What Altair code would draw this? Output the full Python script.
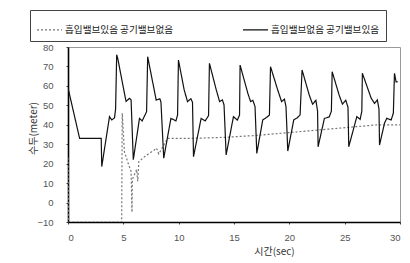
import altair as alt
import pandas as pd

S_DOT = "흡입밸브있음 공기밸브없음"
S_SOLID = "흡입밸브없음 공기밸브있음"

# time (sec) / head (meter) for the solid series
solid_x = [0, 1.05, 3.0, 3.05, 3.75, 3.95, 4.2, 4.3, 4.4, 4.5, 5.1, 5.25, 5.55, 5.7, 5.9,
           6.46, 6.7, 7.1, 7.2, 7.97, 8.3, 8.4, 8.65, 9.3, 9.75, 9.9, 9.98, 10.5, 10.8,
           11.1, 11.25, 11.34, 12.03, 12.4, 12.7, 12.78, 13.4, 13.7, 13.95, 14.1, 14.29,
           14.95, 15.3, 15.5, 15.55, 16.25, 16.5, 16.7, 16.9, 17.06, 17.6, 18.0, 18.2,
           18.3, 18.95, 19.3, 19.56, 19.7, 19.86, 20.4, 20.7, 20.97, 21.15, 21.8, 22.1,
           22.4, 22.55, 22.6, 23.17, 23.6, 23.8, 23.87, 24.5, 24.8, 25.1, 25.3, 25.37,
           26.1, 26.4, 26.55, 26.6, 27.4, 27.7, 27.95, 28.1, 28.15, 28.6, 28.8, 29.2,
           29.4, 29.5, 29.65, 29.8]
solid_y = [59, 33, 33, 18.5, 44.2, 42.5, 43.5, 48, 76, 74, 56.2, 52, 53.6, 52.8, 22,
           43.3, 42, 46.7, 75, 52.7, 53.4, 51.6, 22.8, 43.3, 42, 45, 73.3, 57.9, 51.9,
           53.4, 51.6, 23.6, 43.3, 42, 44.7, 71.6, 57.9, 51.9, 52.8, 50.2, 24.5,
           44.2, 42.4, 45, 70.7, 56.2, 51.9, 52.6, 49.4, 25.3, 42.5, 44, 45,
           69.9, 57.9, 51.9, 53.2, 49.2, 26.5, 42.5, 43.5, 45, 68.2, 55.3, 50.6,
           52.6, 47.1, 28.7, 43.3, 44, 47, 67.3, 55.3, 50.6, 52.6, 49, 28.7,
           44.2, 42.8, 47, 66.5, 53.6, 51, 52.8, 48.2, 29.6, 40.8, 43.3, 42.5,
           46, 66.5, 62, 62.2]

# dotted series
dot_x = [0, 0.05, 4.85, 4.9, 5.1, 5.45, 5.7, 5.78, 5.82, 6.2, 6.3, 6.4, 7.0, 7.8, 8.0,
         8.2, 9.0, 11, 14, 17, 20, 23, 26, 28, 30]
dot_y = [23, -10, -10, 46, 26, 20, 16, -5, 12, 17, 11, 21, 24, 27, 28,
         25, 33, 33, 33.5, 34.5, 36, 37.5, 39, 40, 40]

x_ticks = [0, 5, 10, 15, 20, 25, 30]
y_ticks = [-10, 0, 10, 20, 30, 40, 50, 60, 70, 80]

rows = []
for i, (x, y) in enumerate(zip(dot_x, dot_y)):
    rows.append({"t": x, "h": y, "s": S_DOT, "o": i})
for i, (x, y) in enumerate(zip(solid_x, solid_y)):
    rows.append({"t": x, "h": y, "s": S_SOLID, "o": i})
df = pd.DataFrame(rows)

FONT = "Noto Sans CJK KR"

legend = alt.Legend(
    title=None, orient="none", legendX=-38, legendY=-37, direction="horizontal",
    columns=2, columnPadding=66, symbolType="stroke", symbolSize=625,
    symbolStrokeWidth=1.2, labelFont=FONT, labelFontSize=9.6, labelColor="#222",
    labelLimit=400, strokeColor="#444", padding=6, labelOffset=2,
)

chart = alt.Chart(df).mark_line(strokeWidth=1.2, clip=True).encode(
    x=alt.X("t:Q", scale=alt.Scale(domain=[0, 30], nice=False),
            axis=alt.Axis(values=x_ticks, title="시간(sec)", grid=False,
                          titleX=206, titleY=29, titleBaseline="middle",
                          labelPadding=8, tickSize=2)),
    y=alt.Y("h:Q", scale=alt.Scale(domain=[-10, 80], nice=False),
            axis=alt.Axis(values=y_ticks, title="수두(meter)", grid=False,
                          titleX=-35, titleY=81, titleAlign="center",
                          titleBaseline="middle", titleAngle=270,
                          labelPadding=13, tickSize=2)),
    color=alt.Color("s:N", scale=alt.Scale(domain=[S_DOT, S_SOLID], range=["#777777", "#111111"]),
                    legend=legend),
    strokeDash=alt.StrokeDash("s:N", scale=alt.Scale(domain=[S_DOT, S_SOLID], range=[[2, 2], [1, 0]]),
                              legend=legend),
    order="o:Q",
).properties(
    width=332, height=175,
    autosize=alt.AutoSizeParams(type="none"),
    padding={"left": 60, "top": 39, "right": 2, "bottom": 38},
).configure_view(
    stroke="#999999", strokeWidth=1
).configure_axis(
    domainColor="#000000", domainWidth=1.6, tickColor="#444444",
    labelFont="Liberation Sans", labelFontSize=9.5, labelColor="#555555",
    titleFont=FONT, titleFontSize=10, titleColor="#333333", titleFontWeight="normal",
)

chart.save("out.html", embed_options={"renderer": "svg", "actions": False})
